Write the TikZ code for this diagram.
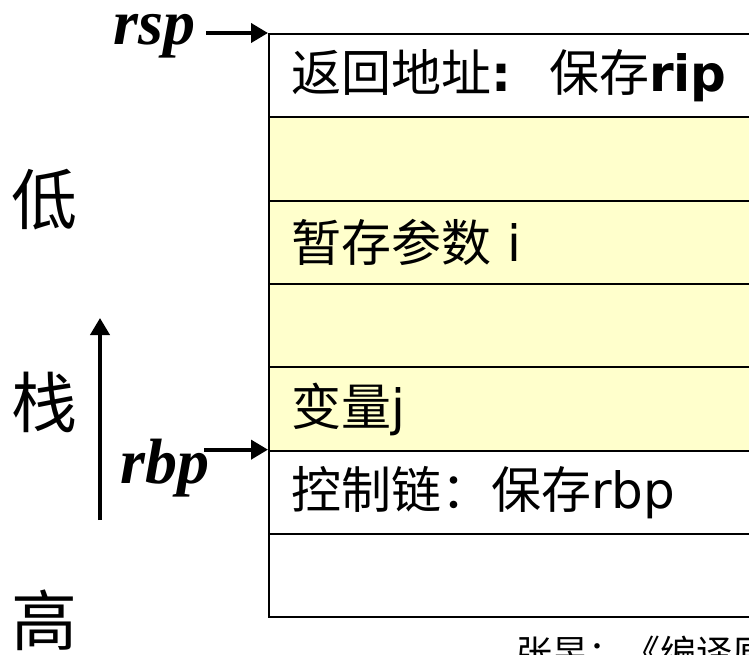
\documentclass[tikz,border=0pt]{standalone}
\usepackage{fontspec}
\setmainfont{DejaVu Sans}
\newfontfamily\cjk{Noto Sans CJK SC}
\newfontfamily\tms{Liberation Serif}
\usetikzlibrary{arrows.meta}
\definecolor{stackyellow}{HTML}{FFFFCC}

\begin{document}
\begin{tikzpicture}[x = 1pt, y = -1pt,
    cell/.style = {draw, line width = 2pt, anchor = north west,
      minimum height = 83.33pt, text width = 476pt, inner xsep = 22pt,
      align = left, font = \fontsize{50}{56}\selectfont},
    reg/.style = {font = \tms\bfseries\itshape\fontsize{64}{70}\selectfont,
      inner sep = 0pt},
    side/.style = {font = \cjk\fontsize{66}{70}\selectfont, inner sep = 0pt},
    ptr/.style = {line width = 4pt, -{Triangle[length = 17pt, width = 19pt]}}]
  \clip (0,0) rectangle (749,655);

  % draws the stack cells
  \foreach \c/\t [count = \i] in {
      white/{{\cjk 返回地址}\textbf{:}\hspace{38pt}{\cjk 保存}\textbf{rip}},
      stackyellow/{},
      stackyellow/{{\cjk 暂存参数} i},
      stackyellow/{},
      stackyellow/{{\cjk 变量}j},
      white/{{\cjk 控制链：保存}rbp},
      white/{}}
    \node[cell, fill = \c] (r\i) at (268, {33 + 83.33*(\i-1)}) {\t};

  % draws the registers
  \node[reg, anchor = base east] (rsp) at (196,45) {rsp};
  \node[reg, anchor = base east] (rbp) at (210,483) {rbp};
  \draw[ptr] ([xshift = 10pt]rsp.east |- r1.north west) -- (r1.north west);
  \draw[ptr] ([xshift = -6pt]rbp.east |- r6.north west) -- (r6.north west);

  % draws the growth direction
  \node[side] (low) at (45,200) {低};
  \node[side] (stk) at (45,402) {栈};
  \node[side] (high) at (45,620) {高};
  \coordinate (from) at (100,520);
  \coordinate (to) at (100,318);
  \draw[ptr] (from) -- (to);

  \node[anchor = north west, inner sep = 0pt,
    font = \cjk\fontsize{36}{40}\selectfont] (src) at (516,636) {张昱：《编译原理》};
\end{tikzpicture}
\end{document}
